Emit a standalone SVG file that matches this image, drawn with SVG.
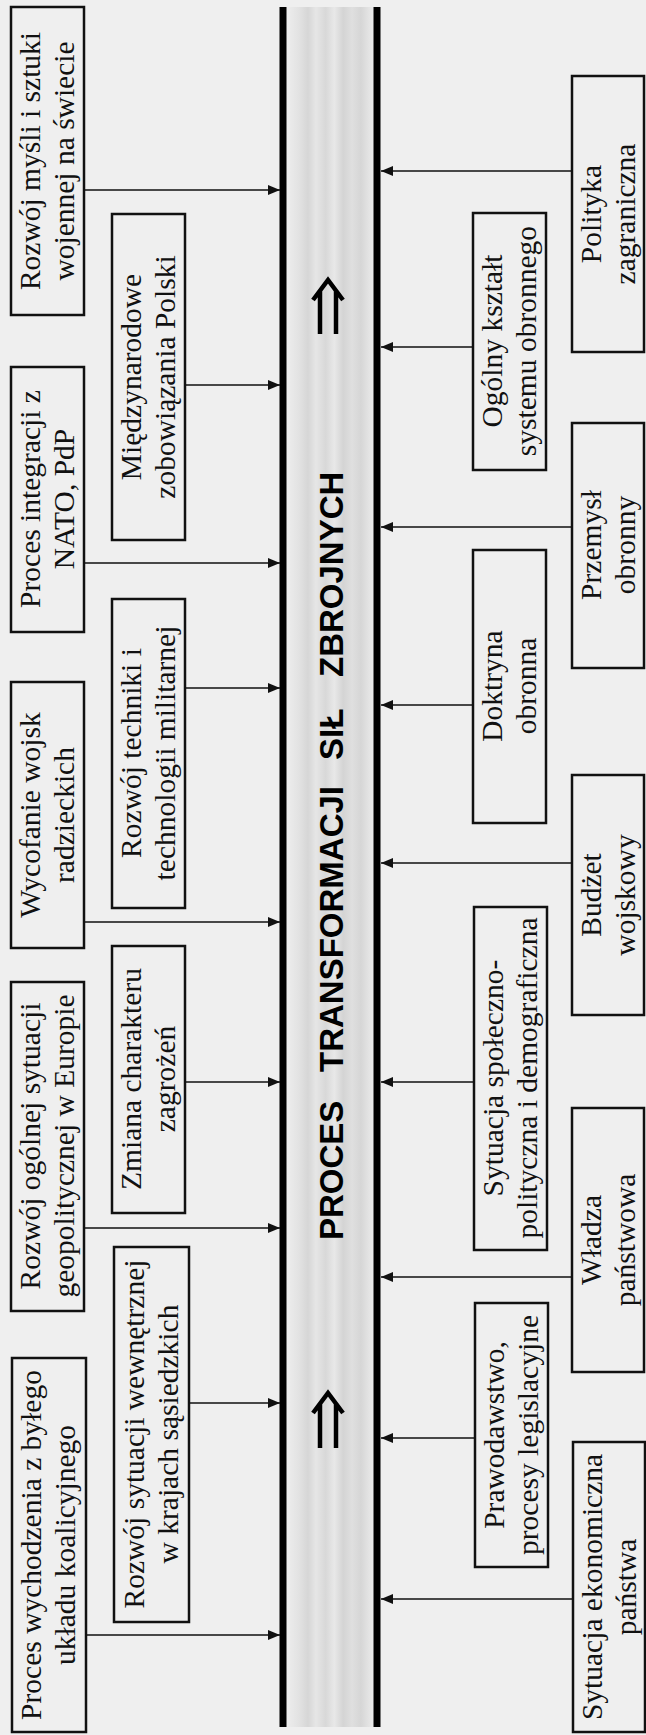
<svg xmlns="http://www.w3.org/2000/svg" width="646" height="1735" viewBox="0 0 646 1735">
  <style>
    .box rect { fill: none; stroke: #111; stroke-width: 2.5; }
    .box text { font-family: "Liberation Serif", "Times New Roman", serif; font-size: 29.5px; fill: #111; text-anchor: middle; }
    .conn line { stroke: #111; stroke-width: 1.6; }
    .rail { stroke: #000; stroke-width: 7; }
    .title { font-family: "Liberation Sans", Arial, sans-serif; font-weight: bold; font-size: 33px; fill: #000; }
    .dbl { fill: none; stroke: #000; stroke-width: 4.5; stroke-linejoin: miter; }
  </style>
  <defs>
    <marker id="ah" viewBox="0 0 12 10" refX="12" refY="5" markerWidth="12" markerHeight="10" markerUnits="userSpaceOnUse" orient="auto">
      <path d="M0,0 L12,5 L0,10 z" fill="#111"/>
    </marker>
    <linearGradient id="bandFill" x1="0" y1="0" x2="1" y2="0">
      <stop offset="0" stop-color="#eeeeee"/>
      <stop offset="0.15" stop-color="#e2e2e2"/>
      <stop offset="0.25" stop-color="#d6d6d6"/>
      <stop offset="0.34" stop-color="#e6e6e6"/>
      <stop offset="0.45" stop-color="#d8d8d8"/>
      <stop offset="0.55" stop-color="#e8e8e8"/>
      <stop offset="0.65" stop-color="#d4d4d4"/>
      <stop offset="0.75" stop-color="#dfdfdf"/>
      <stop offset="0.85" stop-color="#d6d6d6"/>
      <stop offset="1" stop-color="#ececec"/>
    </linearGradient>
  </defs>

  <!-- page -->
  <rect x="0" y="0" width="646" height="1735" fill="#efefef"/>

  <!-- central process band -->
  <g id="process">
    <rect x="286" y="7" width="88" height="1720" fill="url(#bandFill)"/>
    <line class="rail" x1="283" y1="7" x2="283" y2="1727"/>
    <line class="rail" x1="377" y1="7" x2="377" y2="1727"/>
    <text class="title" transform="translate(343,1240) rotate(-90)"><tspan x="0">PROCES</tspan><tspan x="168">TRANSFORMACJI</tspan><tspan x="480">SIŁ</tspan><tspan x="563">ZBROJNYCH</tspan></text>
    <path class="dbl" d="M313,300 L328,280 L343,300 M320,290 L320,334 M336,290 L336,334"/>
    <path class="dbl" d="M313,1413 L328,1393 L343,1413 M320,1403 L320,1448 M336,1403 L336,1448"/>
  </g>

  <!-- left outer column -->
  <g id="rozwoj-mysli" class="box">
    <rect x="11" y="7" width="73" height="308"/>
    <text transform="translate(47,161) rotate(-90)"><tspan x="0" y="-7">Rozwój myśli i sztuki</tspan><tspan x="0" y="27">wojennej na świecie</tspan></text>
  </g>
  <g id="integracja-nato" class="box">
    <rect x="11" y="367" width="73" height="265"/>
    <text transform="translate(47,499) rotate(-90)"><tspan x="0" y="-7">Proces integracji z</tspan><tspan x="0" y="27">NATO, PdP</tspan></text>
  </g>
  <g id="wycofanie" class="box">
    <rect x="11" y="682" width="73" height="266"/>
    <text transform="translate(47,815) rotate(-90)"><tspan x="0" y="-7">Wycofanie wojsk</tspan><tspan x="0" y="27">radzieckich</tspan></text>
  </g>
  <g id="sytuacja-europa" class="box">
    <rect x="11" y="982" width="73" height="329"/>
    <text transform="translate(47,1146) rotate(-90)"><tspan x="0" y="-7">Rozwój ogólnej sytuacji</tspan><tspan x="0" y="27">geopolitycznej w Europie</tspan></text>
  </g>
  <g id="wychodzenie" class="box">
    <rect x="12" y="1358" width="74" height="374"/>
    <text transform="translate(48,1545) rotate(-90)"><tspan x="0" y="-7">Proces wychodzenia z byłego</tspan><tspan x="0" y="27">układu  koalicyjnego</tspan></text>
  </g>

  <!-- left inner column -->
  <g id="zobowiazania" class="box">
    <rect x="112" y="214" width="73" height="326"/>
    <text transform="translate(148,377) rotate(-90)"><tspan x="0" y="-7">Międzynarodowe</tspan><tspan x="0" y="27">zobowiązania Polski</tspan></text>
  </g>
  <g id="technika" class="box">
    <rect x="112" y="599" width="73" height="309"/>
    <text transform="translate(148,753) rotate(-90)"><tspan x="0" y="-7">Rozwój techniki i</tspan><tspan x="0" y="27">technologii militarnej</tspan></text>
  </g>
  <g id="zagrozenia" class="box">
    <rect x="112" y="946" width="73" height="267"/>
    <text transform="translate(148,1079) rotate(-90)"><tspan x="0" y="-7">Zmiana charakteru</tspan><tspan x="0" y="27">zagrożeń</tspan></text>
  </g>
  <g id="kraje-sasiedzkie" class="box">
    <rect x="114" y="1247" width="75" height="375"/>
    <text transform="translate(151,1434) rotate(-90)"><tspan x="0" y="-7">Rozwój sytuacji wewnętrznej</tspan><tspan x="0" y="27">w krajach sąsiedzkich</tspan></text>
  </g>

  <!-- right inner column -->
  <g id="system-obronny" class="box">
    <rect x="473" y="213" width="73" height="257"/>
    <text transform="translate(509,341) rotate(-90)"><tspan x="0" y="-7">Ogólny kształt</tspan><tspan x="0" y="27">systemu obronnego</tspan></text>
  </g>
  <g id="doktryna" class="box">
    <rect x="473" y="550" width="73" height="273"/>
    <text transform="translate(509,686) rotate(-90)"><tspan x="0" y="-7">Doktryna</tspan><tspan x="0" y="27">obronna</tspan></text>
  </g>
  <g id="spoleczna" class="box">
    <rect x="474" y="907" width="73" height="343"/>
    <text transform="translate(510,1078) rotate(-90)"><tspan x="0" y="-7">Sytuacja społeczno-</tspan><tspan x="0" y="27">polityczna i demograficzna</tspan></text>
  </g>
  <g id="prawodawstwo" class="box">
    <rect x="475" y="1303" width="73" height="264"/>
    <text transform="translate(511,1435) rotate(-90)"><tspan x="0" y="-7">Prawodawstwo,</tspan><tspan x="0" y="27">procesy legislacyjne</tspan></text>
  </g>

  <!-- right outer column -->
  <g id="polityka" class="box">
    <rect x="572" y="76" width="72" height="276"/>
    <text transform="translate(608,214) rotate(-90)"><tspan x="0" y="-7">Polityka</tspan><tspan x="0" y="27">zagraniczna</tspan></text>
  </g>
  <g id="przemysl" class="box">
    <rect x="572" y="423" width="72" height="245"/>
    <text transform="translate(608,545) rotate(-90)"><tspan x="0" y="-7">Przemysł</tspan><tspan x="0" y="27">obronny</tspan></text>
  </g>
  <g id="budzet" class="box">
    <rect x="572" y="775" width="72" height="240"/>
    <text transform="translate(608,895) rotate(-90)"><tspan x="0" y="-7">Budżet</tspan><tspan x="0" y="27">wojskowy</tspan></text>
  </g>
  <g id="wladza" class="box">
    <rect x="572" y="1108" width="72" height="264"/>
    <text transform="translate(608,1240) rotate(-90)"><tspan x="0" y="-7">Władza</tspan><tspan x="0" y="27">państwowa</tspan></text>
  </g>
  <g id="ekonomia" class="box">
    <rect x="573" y="1442" width="72" height="290"/>
    <text transform="translate(609,1587) rotate(-90)"><tspan x="0" y="-7">Sytuacja ekonomiczna</tspan><tspan x="0" y="27">państwa</tspan></text>
  </g>

  <!-- connectors into the process band -->
  <g id="connectors" class="conn">
    <line x1="84" y1="190" x2="280" y2="190" marker-end="url(#ah)"/>
    <line x1="84" y1="563" x2="280" y2="563" marker-end="url(#ah)"/>
    <line x1="84" y1="922" x2="280" y2="922" marker-end="url(#ah)"/>
    <line x1="84" y1="1228" x2="280" y2="1228" marker-end="url(#ah)"/>
    <line x1="86" y1="1635" x2="280" y2="1635" marker-end="url(#ah)"/>
    <line x1="185" y1="385" x2="280" y2="385" marker-end="url(#ah)"/>
    <line x1="185" y1="688" x2="280" y2="688" marker-end="url(#ah)"/>
    <line x1="185" y1="1082" x2="280" y2="1082" marker-end="url(#ah)"/>
    <line x1="189" y1="1403" x2="280" y2="1403" marker-end="url(#ah)"/>
    <line x1="473" y1="347" x2="381" y2="347" marker-end="url(#ah)"/>
    <line x1="473" y1="705" x2="381" y2="705" marker-end="url(#ah)"/>
    <line x1="474" y1="1082" x2="381" y2="1082" marker-end="url(#ah)"/>
    <line x1="475" y1="1438" x2="381" y2="1438" marker-end="url(#ah)"/>
    <line x1="572" y1="171" x2="381" y2="171" marker-end="url(#ah)"/>
    <line x1="572" y1="527" x2="381" y2="527" marker-end="url(#ah)"/>
    <line x1="572" y1="863" x2="381" y2="863" marker-end="url(#ah)"/>
    <line x1="572" y1="1277" x2="381" y2="1277" marker-end="url(#ah)"/>
    <line x1="573" y1="1599" x2="381" y2="1599" marker-end="url(#ah)"/>
  </g>
</svg>
